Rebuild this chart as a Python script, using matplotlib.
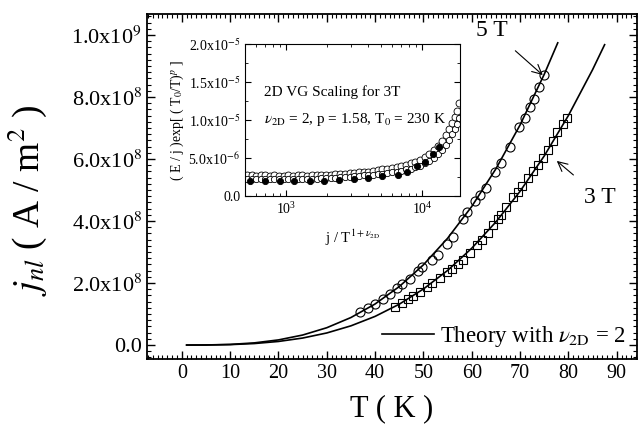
import matplotlib
matplotlib.use("Agg")
import matplotlib.pyplot as plt
from matplotlib.ticker import MultipleLocator, FuncFormatter, LogLocator, NullFormatter

plt.rcParams['font.family'] = ['Liberation Serif', 'DejaVu Serif']
plt.rcParams['mathtext.fontset'] = 'stix'

# main panel: jnl vs T
t_5T = [36.9, 38.5, 40.0, 41.6, 43.1, 44.5, 45.5, 47.2, 48.9, 49.7, 51.8, 53.0, 54.9, 56.1,
        58.2, 59.0, 60.7, 61.7, 62.9, 64.8, 66.0, 67.9, 69.8, 71.0, 72.0, 72.9, 73.9, 74.9]
j_5T = [1.08e8, 1.19e8, 1.32e8, 1.48e8, 1.64e8, 1.83e8, 1.96e8, 2.12e8, 2.40e8, 2.52e8,
        2.74e8, 2.90e8, 3.25e8, 3.48e8, 4.08e8, 4.29e8, 4.65e8, 4.84e8, 5.06e8, 5.58e8,
        5.87e8, 6.39e8, 7.03e8, 7.32e8, 7.68e8, 7.95e8, 8.32e8, 8.71e8]

t_3T = [44.1, 45.5, 46.8, 47.8, 49.3, 50.7, 51.8, 53.4, 54.9, 55.9, 57.1, 58.2, 59.6, 61.1,
        62.1, 63.4, 64.4, 65.4, 66.0, 67.1, 68.5, 69.6, 70.4, 71.6, 72.7, 73.7, 74.7, 75.8,
        76.8, 77.6, 78.9, 79.7]
j_3T = [1.23e8, 1.35e8, 1.48e8, 1.58e8, 1.71e8, 1.86e8, 2.00e8, 2.17e8, 2.35e8, 2.45e8,
        2.62e8, 2.76e8, 2.97e8, 3.23e8, 3.39e8, 3.61e8, 3.87e8, 4.07e8, 4.20e8, 4.45e8,
        4.77e8, 4.95e8, 5.12e8, 5.38e8, 5.62e8, 5.80e8, 6.03e8, 6.29e8, 6.58e8, 6.86e8,
        7.13e8, 7.32e8]

# theory curves (nu_2D = 2)
th_t_5T = [1, 5, 10, 15, 20, 25, 30, 35, 40, 45, 50, 55, 60, 65, 70, 75, 77.8]
th_j_5T = [0.0, 2.6e5, 2.07e6, 6.99e6, 1.66e7, 3.23e7, 5.59e7, 8.88e7, 1.325e8, 1.886e8,
           2.588e8, 3.444e8, 4.471e8, 5.685e8, 7.100e8, 8.733e8, 9.75e8]
th_t_3T = [1, 5, 10, 15, 20, 25, 30, 35, 40, 45, 50, 55, 60, 65, 70, 75, 80, 85, 87.5]
th_j_3T = [0.0, 1.8e5, 1.45e6, 4.88e6, 1.16e7, 2.26e7, 3.90e7, 6.20e7, 9.25e7, 1.318e8,
           1.808e8, 2.406e8, 3.123e8, 3.971e8, 4.960e8, 6.100e8, 7.404e8, 8.881e8, 9.69e8]

# inset: scaling plot
in_x = [520, 560, 600, 650, 700, 760, 820, 890, 960, 1040, 1130, 1220, 1320, 1430, 1550,
        1680, 1820, 1970, 2130, 2310, 2500, 2710, 2930, 3170, 3430, 3720, 4030, 4360,
        4720, 5110, 5530, 5990, 6490, 7030, 7610, 8240, 8920, 9660, 10500, 11300, 12200,
        13100, 14000, 14900, 15800, 16600, 17400, 18100, 18700]
in_up = [2.7e-6, 2.7e-6, 2.6e-6, 2.7e-6, 2.7e-6, 2.6e-6, 2.7e-6, 2.6e-6, 2.6e-6, 2.7e-6,
         2.6e-6, 2.7e-6, 2.7e-6, 2.6e-6, 2.7e-6, 2.8e-6, 2.7e-6, 2.8e-6, 2.8e-6, 2.9e-6,
         2.9e-6, 2.9e-6, 3.0e-6, 3.0e-6, 3.1e-6, 3.1e-6, 3.2e-6, 3.3e-6, 3.4e-6, 3.5e-6,
         3.6e-6, 3.7e-6, 3.8e-6, 4.0e-6, 4.1e-6, 4.3e-6, 4.5e-6, 4.8e-6, 5.1e-6, 5.5e-6,
         6.0e-6, 6.6e-6, 7.3e-6, 8.0e-6, 8.8e-6, 9.6e-6, 1.04e-5, 1.12e-5, 1.22e-5]
in_mid = [2.2e-6, 2.3e-6, 2.2e-6, 2.2e-6, 2.3e-6, 2.2e-6, 2.2e-6, 2.3e-6, 2.2e-6, 2.2e-6,
          2.3e-6, 2.2e-6, 2.3e-6, 2.3e-6, 2.3e-6, 2.3e-6, 2.4e-6, 2.4e-6, 2.4e-6, 2.4e-6,
          2.5e-6, 2.5e-6, 2.5e-6, 2.6e-6, 2.6e-6, 2.7e-6, 2.7e-6, 2.8e-6, 2.9e-6, 2.9e-6,
          3.0e-6, 3.1e-6, 3.2e-6, 3.3e-6, 3.5e-6, 3.6e-6, 3.8e-6, 4.0e-6, 4.3e-6, 4.6e-6,
          5.0e-6, 5.5e-6, 6.1e-6, 6.7e-6, 7.4e-6, 8.1e-6, 8.8e-6, 9.5e-6, 1.03e-5]
in_fill_x = [540, 700, 900, 1150, 1500, 1900, 2450, 3150, 4000, 5100, 6600, 7700, 9200,
             10500, 12000, 13300]
in_fill = [2.0e-6, 2.0e-6, 2.0e-6, 2.0e-6, 2.0e-6, 2.0e-6, 2.1e-6, 2.2e-6, 2.4e-6, 2.6e-6,
           2.8e-6, 3.1e-6, 3.9e-6, 4.5e-6, 5.5e-6, 6.4e-6]

fig = plt.figure(figsize=(6.4, 4.43), dpi=100)
ax = fig.add_axes([0.2297, 0.1896, 0.7656, 0.7788])

ax.plot(th_t_5T, th_j_5T, color='black', lw=1.2, label=r'Theory with $\nu_{\rm 2D}$ = 2')
ax.plot(th_t_3T, th_j_3T, color='black', lw=1.2)
ax.plot(t_5T, j_5T, 'o', ms=6.5, mfc='none', mec='black', mew=0.8)
ax.plot(t_3T, j_3T, 's', ms=6, mfc='none', mec='black', mew=0.8)

ax.set_xlim(-7.2, 94.2)
ax.set_ylim(-4.5e7, 1.068e9)
ax.xaxis.set_major_locator(MultipleLocator(10))
ax.xaxis.set_minor_locator(MultipleLocator(1))
ax.yaxis.set_major_locator(MultipleLocator(2e8))
ax.yaxis.set_minor_locator(MultipleLocator(2e7))


def sci_fmt(v, pos):
    if v == 0:
        return '0.0'
    e = int(f'{v:e}'.split('e')[1])
    return f'{v / 10 ** e:.1f}x10$^{{{e}}}$'


ax.yaxis.set_major_formatter(FuncFormatter(sci_fmt))
ax.tick_params(which='both', direction='in', top=True, right=True)
ax.tick_params(axis='x', labelsize=14.5)
ax.tick_params(axis='y', labelsize=16)
ax.tick_params(which='major', length=6, width=1)
ax.tick_params(which='minor', length=3, width=0.8)
for s in ax.spines.values():
    s.set_linewidth(1.3)

ax.set_xlabel('T ( K )', fontsize=22, labelpad=8)
ax.set_ylabel(r'$j_{nl}$ ( A / m$^2$ )', fontsize=27)
ax.yaxis.set_label_coords(-0.2, 0.46)

ax.legend(loc='lower right', frameon=False, fontsize=16.5, handlelength=2.3,
          bbox_to_anchor=(1.02, -0.03), handletextpad=0.25)

ax.annotate('5 T', xy=(74.7, 8.71e8), xytext=(64.2, 1.016e9), fontsize=17,
            ha='center', va='center',
            arrowprops=dict(arrowstyle='->', color='black', lw=0.8, shrinkA=8, shrinkB=0))
ax.annotate('3 T', xy=(77.6, 5.94e8), xytext=(86.5, 4.77e8), fontsize=17,
            ha='center', va='center',
            arrowprops=dict(arrowstyle='->', color='black', lw=0.8, shrinkA=10, shrinkB=0))

# inset
ins = fig.add_axes([0.3828, 0.5576, 0.336, 0.3431])
ins.plot(in_x, in_up, 'o', ms=5, mfc='white', mec='black', mew=0.6)
ins.plot(in_x, in_mid, 'o', ms=4.5, mfc='white', mec='black', mew=0.6)
ins.plot(in_fill_x, in_fill, 'o', ms=4.5, mfc='black', mec='black', mew=0.6)
ins.set_xscale('log')
ins.set_xlim(500, 19000)
ins.set_ylim(0, 2e-5)
ins.yaxis.set_major_locator(MultipleLocator(5e-6))
ins.yaxis.set_minor_locator(MultipleLocator(2.5e-6))
ins.yaxis.set_major_formatter(FuncFormatter(sci_fmt))
ins.xaxis.set_major_locator(LogLocator(base=10))
ins.xaxis.set_minor_locator(LogLocator(base=10, subs=range(2, 10)))
ins.xaxis.set_minor_formatter(NullFormatter())
ins.tick_params(which='both', direction='in', top=True, right=True, labelsize=10)
ins.tick_params(which='major', length=4, width=0.8)
ins.tick_params(which='minor', length=2, width=0.6)
ins.set_xlabel(r'j / T$^{1+\nu_{\rm 2D}}$', fontsize=10.5, labelpad=8)
ins.set_ylabel(r'( E / j )exp[ ( T$_0$/T)$^p$ ]', fontsize=10, labelpad=2)
ins.text(0.09, 0.66, '2D VG Scaling for 3T', transform=ins.transAxes, fontsize=11)
ins.text(0.09, 0.48, r'$\nu_{\rm 2D}$ = 2, p = 1.58, T$_0$ = 230 K', transform=ins.transAxes,
         fontsize=11)

plt.savefig('out.png', dpi=100)
